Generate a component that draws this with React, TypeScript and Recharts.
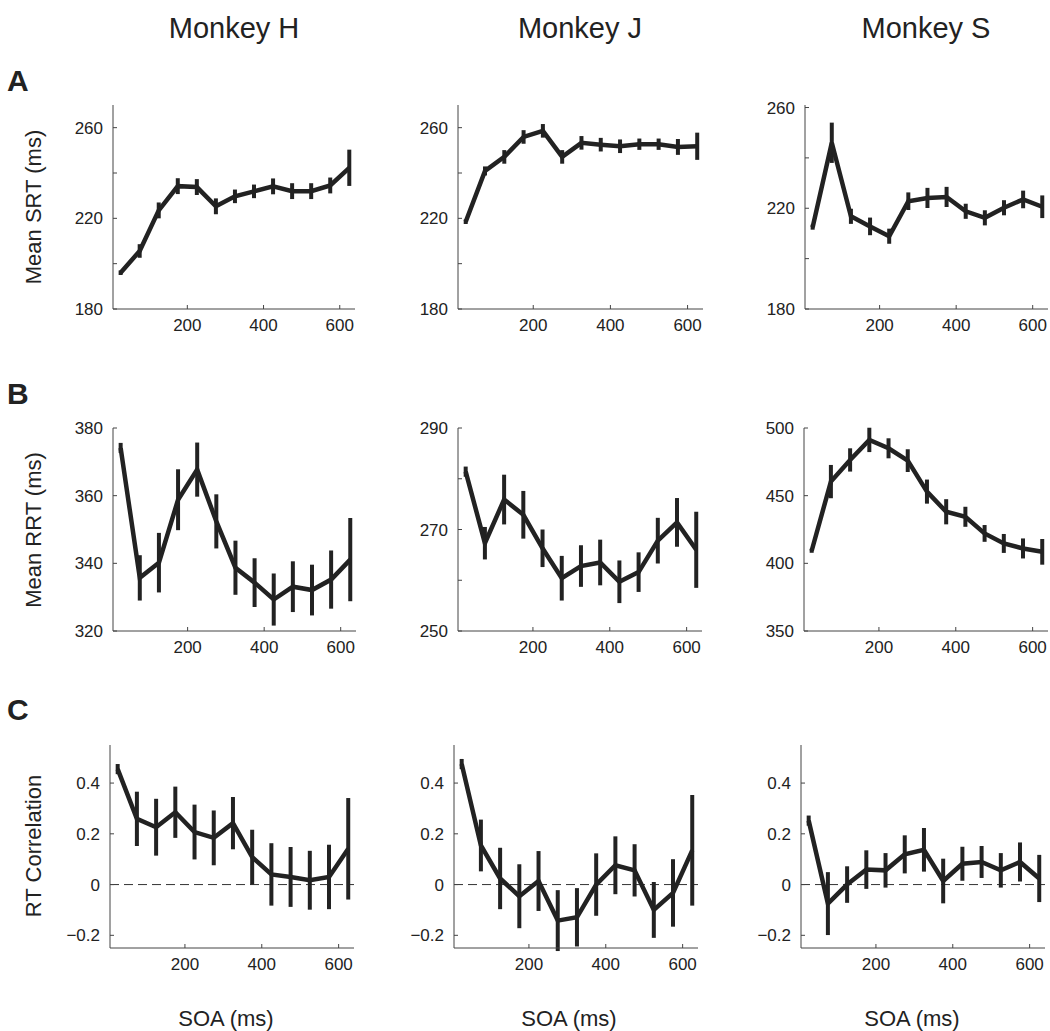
import React from 'react'
import { LineChart, Line, XAxis, YAxis, ErrorBar, ReferenceLine } from 'recharts'

const soa = [25, 75, 125, 175, 225, 275, 325, 375, 425, 475, 525, 575, 625]
const monkeys = ['Monkey H', 'Monkey J', 'Monkey S']
const rowLetters = ['A', 'B', 'C']
const rowTitles = ['Mean SRT (ms)', 'Mean RRT (ms)', 'RT Correlation']
const xTicks = [200, 400, 600]

// row A: mean saccadic RT
const srtH = [196, 205.6, 223.5, 234.2, 233.8, 225.3, 229.7, 231.9, 234.1, 232, 232, 234.5, 242.3]
const srtHErr = [1, 3, 3.5, 3.5, 3.5, 3.5, 3, 3, 3.5, 3.5, 3.5, 3.5, 8]
const srtJ = [218.5, 240.9, 247.1, 255.9, 258.6, 247.1, 253.3, 252.5, 251.8, 252.7, 252.7, 251.5, 251.8]
const srtJErr = [1, 2, 3, 3, 3, 3, 3, 3, 3, 2.5, 2.5, 3.5, 6]
const srtS = [212.5, 246, 216.8, 212.8, 208.9, 222.8, 224.1, 224.5, 218.8, 216.2, 220.2, 223.5, 220.6]
const srtSErr = [1, 8, 3, 3.5, 3, 3.5, 4, 4, 3, 3, 3, 3.5, 4.5]

// row B: mean reaching RT
const rrtH = [374.1, 335.7, 340.2, 358.8, 367.7, 352.4, 338.7, 334.3, 329.3, 333.1, 332.1, 335.2, 341.1]
const rrtHErr = [1.5, 6.7, 8.8, 9, 8, 8, 8, 7.2, 7.7, 7.5, 7.5, 8.6, 12.3]
const rrtJ = [281.4, 267.3, 275.9, 272.9, 266.3, 260.4, 262.8, 263.5, 259.7, 261.6, 267.8, 271.4, 266]
const rrtJErr = [1, 3.2, 4.9, 4.7, 3.7, 4.4, 4.1, 4.5, 4.2, 3.9, 4.5, 4.8, 7.5]
const rrtS = [409.3, 460.4, 476.4, 491.2, 485, 475.9, 453, 438.1, 434.4, 422.1, 414.7, 411, 408.5]
const rrtSErr = [1.5, 12.3, 8.6, 9, 7.4, 8.4, 8.9, 9.3, 7.4, 6.2, 7, 7.4, 9.5]

// row C: RT correlation
const corrH = [0.455, 0.259, 0.226, 0.285, 0.207, 0.184, 0.242, 0.108, 0.04, 0.03, 0.017, 0.03, 0.141]
const corrHErr = [0.02, 0.107, 0.112, 0.101, 0.108, 0.108, 0.103, 0.108, 0.123, 0.118, 0.116, 0.127, 0.2]
const corrJ = [0.475, 0.154, 0.024, -0.046, 0.014, -0.142, -0.129, 0, 0.076, 0.056, -0.1, -0.033, 0.135]
const corrJErr = [0.02, 0.102, 0.121, 0.126, 0.118, 0.12, 0.115, 0.123, 0.114, 0.103, 0.11, 0.133, 0.218]
const corrS = [0.252, -0.075, 0, 0.059, 0.056, 0.119, 0.137, 0.014, 0.082, 0.089, 0.056, 0.089, 0.024]
const corrSErr = [0.02, 0.124, 0.072, 0.076, 0.068, 0.075, 0.086, 0.088, 0.067, 0.063, 0.068, 0.077, 0.093]

const INK = '#222'
const FONT = '"Liberation Sans", Arial, Helvetica, sans-serif'

interface PanelSpec {
  mean: number[]
  err: number[]
  domain: [number, number]
  ticks: number[]
  labels: number[]
  box: [number, number, number, number] // left, top, width, height of plot area
  zeroLine?: boolean
}

const fmt = (v: number) => (v < 0 ? '\u2212' + Math.abs(v) : String(v))

const panels: PanelSpec[] = [
  { mean: srtH, err: srtHErr, domain: [180, 270], ticks: [180, 200, 220, 240, 260], labels: [180, 220, 260], box: [113, 105, 242, 204] },
  { mean: srtJ, err: srtJErr, domain: [180, 270], ticks: [180, 200, 220, 240, 260], labels: [180, 220, 260], box: [458, 105, 245, 204] },
  { mean: srtS, err: srtSErr, domain: [180, 261], ticks: [180, 200, 220, 240, 260], labels: [180, 220, 260], box: [805, 105, 243, 204] },
  { mean: rrtH, err: rrtHErr, domain: [320, 380], ticks: [320, 340, 360, 380], labels: [320, 340, 360, 380], box: [113, 428, 243, 203] },
  { mean: rrtJ, err: rrtJErr, domain: [250, 290], ticks: [250, 260, 270, 280, 290], labels: [250, 270, 290], box: [458, 428, 244, 203] },
  { mean: rrtS, err: rrtSErr, domain: [350, 500], ticks: [350, 400, 450, 500], labels: [350, 400, 450, 500], box: [804, 428, 244, 203] },
  { mean: corrH, err: corrHErr, domain: [-0.25, 0.55], ticks: [-0.2, 0, 0.2, 0.4], labels: [-0.2, 0, 0.2, 0.4], box: [110, 745, 244, 203], zeroLine: true },
  { mean: corrJ, err: corrJErr, domain: [-0.25, 0.55], ticks: [-0.2, 0, 0.2, 0.4], labels: [-0.2, 0, 0.2, 0.4], box: [454, 745, 244, 203], zeroLine: true },
  { mean: corrS, err: corrSErr, domain: [-0.25, 0.55], ticks: [-0.2, 0, 0.2, 0.4], labels: [-0.2, 0, 0.2, 0.4], box: [801, 745, 244, 203], zeroLine: true },
]

const colCenters = [234, 580, 926]
const soaCenters = [226, 569, 912]
const rowCenters = [207, 530, 846]
const letterBaselines = [91, 404, 720]

const Y_W = 70
const X_H = 40
const PAD = 10

function Panel({ spec }: { spec: PanelSpec }) {
  const [left, top, w, h] = spec.box
  const data = soa.map((x, i) => ({ soa: x, mean: spec.mean[i], err: spec.err[i] }))
  const tickStyle = { fontSize: 17, fill: INK, fontFamily: FONT }

  return (
    <div style={{ position: 'absolute', left: left - Y_W, top: top - PAD }}>
      <LineChart
        width={w + Y_W + PAD}
        height={h + PAD + X_H}
        data={data}
        margin={{ top: PAD, right: PAD, bottom: 0, left: 0 }}
      >
        <XAxis
          dataKey="soa"
          type="number"
          domain={[5, 640]}
          ticks={xTicks}
          allowDataOverflow
          height={X_H}
          stroke="#444"
          tick={tickStyle}
          tickSize={-4}
          tickMargin={14}
        />
        <YAxis
          type="number"
          domain={spec.domain}
          ticks={spec.ticks}
          allowDataOverflow
          width={Y_W}
          stroke="#444"
          tick={tickStyle}
          tickSize={-4}
          tickMargin={14}
          tickFormatter={(v: number) => (spec.labels.includes(v) ? fmt(v) : '')}
        />
        {spec.zeroLine && (
          <ReferenceLine y={0} stroke="#333" strokeWidth={1} strokeDasharray="9 5" />
        )}
        <Line
          dataKey="mean"
          stroke={INK}
          strokeWidth={4.5}
          dot={false}
          isAnimationActive={false}
        >
          <ErrorBar
            dataKey="err"
            direction="y"
            width={0}
            stroke={INK}
            strokeWidth={4}
            isAnimationActive={false}
          />
        </Line>
      </LineChart>
    </div>
  )
}

export default function App() {
  return (
    <div
      style={{
        position: 'absolute',
        left: 0,
        top: 0,
        width: 1050,
        height: 1031,
        background: '#fff',
        fontFamily: FONT,
      }}
    >
      <svg width={1050} height={1031} style={{ position: 'absolute', left: 0, top: 0 }}>
        {monkeys.map((m, i) => (
          <text key={m} x={colCenters[i]} y={38} textAnchor="middle" fontSize={29} fill={INK} fontFamily={FONT}>
            {m}
          </text>
        ))}
        {rowLetters.map((l, i) => (
          <text key={l} x={7} y={letterBaselines[i]} fontSize={30} fontWeight="bold" fill={INK} fontFamily={FONT}>
            {l}
          </text>
        ))}
        {rowTitles.map((t, i) => (
          <text
            key={t}
            transform={`translate(41, ${rowCenters[i]}) rotate(-90)`}
            textAnchor="middle"
            fontSize={22}
            fill={INK}
            fontFamily={FONT}
          >
            {t}
          </text>
        ))}
        {soaCenters.map((c, i) => (
          <text key={i} x={c} y={1026} textAnchor="middle" fontSize={22} fill={INK} fontFamily={FONT}>
            SOA (ms)
          </text>
        ))}
      </svg>
      {panels.map((p, i) => (
        <Panel key={i} spec={p} />
      ))}
    </div>
  )
}
